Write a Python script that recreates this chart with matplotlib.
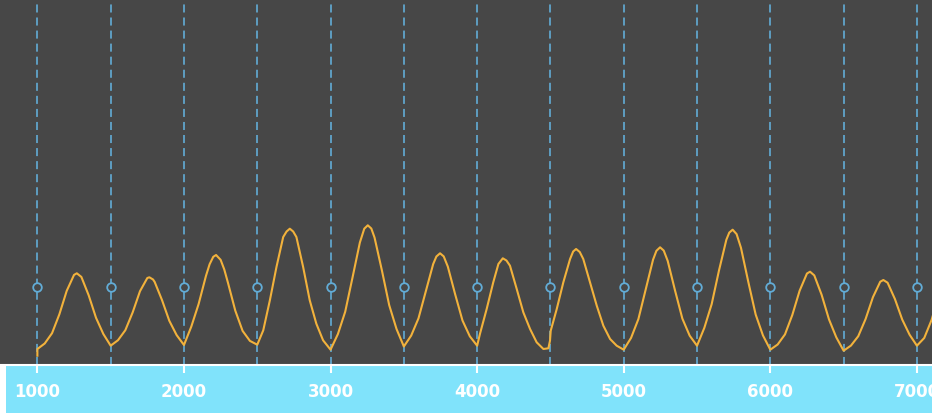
import numpy as np
import matplotlib.pyplot as plt
from matplotlib.patches import Rectangle

# signal samples (x position, level above baseline)
sig_x = [1000, 1000, 1050, 1100, 1150, 1200, 1250, 1269, 1300, 1350, 1400, 1450,
         1500, 1550, 1600, 1650, 1700, 1750, 1764, 1789, 1800, 1850, 1900, 1950,
         2000, 2050, 2100, 2150, 2175, 2200, 2219, 2250, 2275, 2300, 2350, 2400, 2450,
         2500, 2541, 2586, 2631, 2677, 2700, 2722, 2745, 2767, 2813, 2858, 2903, 2949,
         3000, 3050, 3100, 3150, 3200, 3230, 3254, 3278, 3300, 3350, 3400, 3450,
         3500, 3550, 3600, 3650, 3700, 3722, 3747, 3772, 3800, 3850, 3900, 3950,
         4000, 4019, 4065, 4110, 4145, 4175, 4200, 4224, 4270, 4315, 4361, 4406, 4452, 4486, 4497,
         4502, 4543, 4588, 4634, 4655, 4675, 4700, 4724, 4770, 4816, 4861, 4907, 4952,
         5000, 5050, 5100, 5150, 5200, 5223, 5248, 5273, 5300, 5350, 5400, 5450,
         5500, 5550, 5600, 5650, 5700, 5720, 5743, 5770, 5800, 5850, 5900, 5950,
         6000, 6050, 6100, 6150, 6200, 6250, 6271, 6300, 6350, 6400, 6450,
         6500, 6550, 6600, 6650, 6700, 6750, 6771, 6800, 6850, 6900, 6950,
         7000, 7050, 7100, 7150, 7200]
sig_y = [9.3, 16, 21.5, 31.8, 50.7, 74.1, 90.1, 91.7, 88.1, 69.7, 47.2, 31.0,
         19.3, 24.8, 34.8, 52.6, 73.8, 87.0, 87.7, 85.5, 83.1, 65.0, 44.2, 29.9,
         20, 38.4, 61.0, 89.1, 100.8, 108.2, 110, 105.2, 95.5, 82.3, 54.4, 34.1, 24.1,
         20.3, 34.7, 64.7, 98, 128, 133.5, 136.3, 133.5, 128, 98, 64.7, 41.3, 24.7,
         15.3, 30.9, 53.3, 87.6, 122.5, 136.3, 139.7, 136.5, 127.5, 94.8, 59.9, 36.0,
         18.5, 29.4, 46.7, 73.9, 100.9, 108.5, 111.7, 108.6, 98.4, 70.7, 44.5, 28.7,
         19.3, 31, 56, 82.7, 101, 106.7, 104.5, 99.3, 76, 52.7, 36, 22.7, 16, 16.7, 24.3,
         34.3, 56, 82.7, 106, 113.5, 116, 113, 106, 82.7, 59.3, 39.3, 26, 19.3,
         15.3, 27.1, 45.9, 75.5, 105.3, 114.2, 117.7, 114.4, 104.1, 74.5, 46.4, 29.3,
         19.3, 37.2, 60.9, 94.6, 125.2, 132.4, 135.3, 130.9, 117.1, 83.0, 50.5, 29.5,
         15.3, 20.5, 30.6, 50.0, 74.3, 91.5, 93.3, 89.6, 70.2, 45.7, 27.7,
         14.3, 19.4, 28.8, 46.0, 67.8, 83.3, 85, 82.3, 66.0, 45.4, 30.3,
         19.3, 27, 45, 70, 92]

# event markers
event_x = [1000, 1500, 2000, 2500, 3000, 3500, 4000, 4500, 5000, 5500, 6000, 6500, 7000]
event_level = 78

tick_vals = [1000, 2000, 3000, 4000, 5000, 6000, 7000]

bg = "#474747"
band = "#80e3fb"
blue = "#62acd6"
orange = "#f2b23c"

W, H = 932, 414
fig = plt.figure(figsize=(W / 100, H / 100), dpi=100, facecolor="white")
ax = fig.add_axes([0, 48 / H, 1, 366 / H])
ax.set_facecolor(bg)

# cyan axis band under the plot
fig.patches.append(Rectangle((6 / W, 0), 1 - 6 / W, 48 / H, transform=fig.transFigure,
                             facecolor=band, edgecolor="none", zorder=-5))

plt.rcParams["lines.scale_dashes"] = False
for ex in event_x:
    ax.axvline(ex, color=blue, lw=1.2, linestyle=(0, (5.8, 3.6)), zorder=1)
ax.plot(event_x, [event_level] * len(event_x), linestyle="none", marker="o",
        ms=6.2, mfc=bg, mec=blue, mew=1.3, zorder=3, clip_on=False)

ax.plot(sig_x, sig_y, color=orange, lw=1.5, zorder=2)

ax.set_xlim(745, 7103)
ax.set_ylim(0, 366)
ax.set_yticks([])
ax.set_xticks(tick_vals)
ax.set_xticklabels([str(v) for v in tick_vals])
ax.tick_params(axis="x", colors="white", length=6, width=1.5, direction="out", pad=6,
               labelsize=12)
for lab in ax.get_xticklabels():
    lab.set_fontweight("bold")
    lab.set_color("white")

for side in ["top", "left", "right"]:
    ax.spines[side].set_visible(False)
ax.spines["bottom"].set_color("white")
ax.spines["bottom"].set_linewidth(1.5)

fig.savefig("out.png", dpi=100, facecolor=fig.get_facecolor())
